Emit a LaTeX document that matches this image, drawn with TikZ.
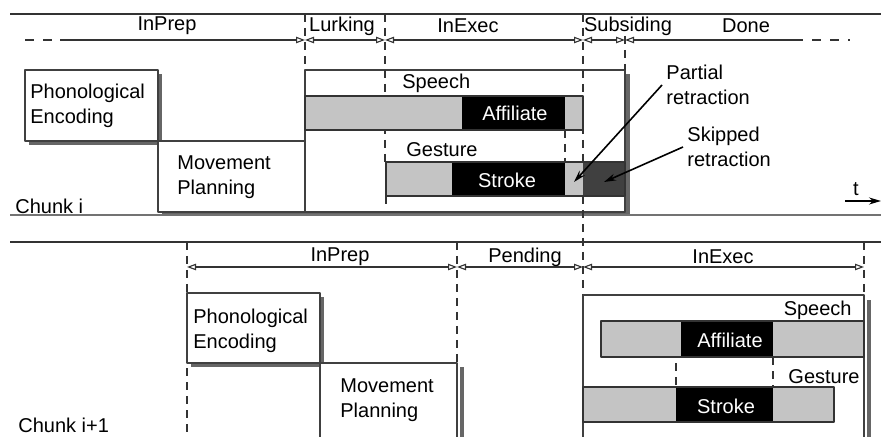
\documentclass[tikz,border=0pt]{standalone}
\usepackage{fontspec}
\setmainfont{Liberation Sans}
\usetikzlibrary{arrows.meta}
\definecolor{bargray}{gray}{0.77}
\definecolor{shadegray}{gray}{0.4}
\definecolor{retgray}{gray}{0.25}
\tikzset{
  otri/.tip={Triangle[open,length=4.5pt,width=3.2pt]},
  phase/.style={line width=0.55pt, draw=black!80},
  tick/.style={line width=0.55pt, draw=black!80, dash pattern=on 4pt off 3pt},
  stagebox/.style={line width=0.75pt, draw=black!75, fill=white},
  boxshade/.style={fill=shadegray},
  lbl/.style={inner sep=0pt, align=left, anchor=west},
  pointer/.style={line width=0.8pt, -{Stealth[length=6pt,width=3.5pt]}}
}
\begin{document}
\begin{tikzpicture}[x=0.5pt, y=-0.5pt, font=\fontsize{10}{12.5}\selectfont, line join=round]
  \useasboundingbox (0,0) rectangle (881,437);

  % Chunk i: time line
  \coordinate (tL) at (10,14); \coordinate (tR) at (881,14);
  \coordinate (tS) at (25,40); \coordinate (tA) at (60,40);
  \coordinate (t1) at (305,40); \coordinate (t2) at (385,40);
  \coordinate (t3) at (583,40); \coordinate (t4) at (625,40);
  \coordinate (tB) at (803,40); \coordinate (tE) at (850,40);

  \draw[phase] (tL) -- (tR);
  \draw[phase, dash pattern=on 4.5pt off 4.5pt] (tS) -- (tA);
  \draw[phase, -otri] (tA) -- (t1);
  \draw[phase, otri-otri] (t1) -- (t2);
  \draw[phase, otri-otri] (t2) -- (t3);
  \draw[phase, otri-otri] (t3) -- (t4);
  \draw[phase, otri-] (t4) -- (tB);
  \draw[phase, dash pattern=on 4.5pt off 4.5pt] ([xshift=4.5pt]tB) -- (tE);

  \node (prepA) at (167,26) {InPrep};
  \node (lurkA) at (342,26) {Lurking};
  \node (execA) at (468,26) {InExec};
  \node (subsA) at (628,26) {Subsiding};
  \node (doneA) at (746,26) {Done};

  % Chunk i: stages
  \fill[boxshade] (29,74) rectangle (162,145);
  \draw[stagebox] (25,70) rectangle (158,141);
  \fill[boxshade] (162,145) rectangle (309,216);
  \draw[stagebox] (158,141) rectangle (305,212);
  \fill[boxshade] (309,74) rectangle (630,216);
  \draw[stagebox] (305,70) rectangle (625,212);
  \draw[line width=1pt, black!55] (10,215) -- (881,215);

  % Chunk i: dashed borders
  \draw[tick] (305,14) -- (305,70);
  \draw[tick] (385,14) -- (385,162);
  \draw[tick] (583,14) -- (583,295);
  \draw[tick] (625,36) -- (625,70);
  \draw[tick] (565,130) -- (565,162);

  % Chunk i: speech and gesture
  \fill[bargray] (305,96) rectangle (462,130);
  \fill[black] (462,96) rectangle (565,130);
  \fill[bargray] (565,96) rectangle (583,130);
  \draw[phase] (305,96) rectangle (583,130);
  \fill[bargray] (386,162) rectangle (452,196);
  \fill[black] (452,162) rectangle (565,196);
  \fill[bargray] (565,162) rectangle (583,196);
  \fill[retgray] (583,162) rectangle (625,196);
  \draw[phase] (386,162) rectangle (625,196);
  \draw[phase] (386,196) -- (386,204);

  \node[lbl] (pencA) at (30,105.5) {Phonological\\Encoding};
  \node[lbl] (mplanA) at (177,177) {Movement\\Planning};
  \node[lbl] (speechA) at (402,83) {Speech};
  \node[lbl] (gestA) at (406,150) {Gesture};
  \node[text=white] (affA) at (515,113) {Affiliate};
  \node[text=white] (strokeA) at (507,180) {Stroke};
  \node[lbl] (chunkA) at (15,206) {Chunk i};

  % retraction labels
  \coordinate (partP) at (574,182);
  \coordinate (skipP) at (604,182);
  \node[lbl] (partial) at (666,85) {Partial\\retraction};
  \node[lbl] (skipped) at (687,147) {Skipped\\retraction};
  \draw[pointer] ([xshift=-2pt]partial.west) -- (partP);
  \draw[pointer] ([xshift=-2pt]skipped.west) -- (skipP);

  % time axis
  \coordinate (axL) at (845,201); \coordinate (axR) at (881,201);
  \draw[pointer] (axL) -- (axR);
  \node (tlab) at (856,189) {t};

  % Chunk i+1: time line
  \coordinate (uL) at (10,242); \coordinate (uR) at (881,242);
  \coordinate (b0) at (187,267); \coordinate (b1) at (457,267);
  \coordinate (b2) at (583,267); \coordinate (b3) at (864,267);

  \draw[phase] (uL) -- (uR);
  \draw[phase, otri-otri] (b0) -- (b1);
  \draw[phase, otri-otri] (b1) -- (b2);
  \draw[phase, otri-otri] (b2) -- (b3);

  \node (prepB) at (340,257) {InPrep};
  \node (pendB) at (525,257) {Pending};
  \node (execB) at (723,257) {InExec};

  % Chunk i+1: dashed borders
  \draw[tick] (187,242) -- (187,437);
  \draw[tick] (457,242) -- (457,363);
  \draw[tick] (864,242) -- (864,295);

  % Chunk i+1: stages
  \fill[boxshade] (191,297) rectangle (324,367);
  \draw[stagebox] (187,293) rectangle (320,363);
  \fill[boxshade] (460,367) rectangle (464,437);
  \filldraw[stagebox] (320,437) -- (320,363) -- (457,363) -- (457,437);
  \fill[boxshade] (867,300) rectangle (871,437);
  \filldraw[stagebox] (583,437) -- (583,295) -- (864,295) -- (864,437);

  \draw[tick] (676,363) -- (676,387);
  \draw[tick] (773,357) -- (773,387);

  % Chunk i+1: speech and gesture
  \fill[bargray] (601,321) rectangle (681,357);
  \fill[black] (681,321) rectangle (773,357);
  \fill[bargray] (773,321) rectangle (864,357);
  \draw[phase] (601,321) rectangle (864,357);
  \fill[bargray] (583,387) rectangle (676,422);
  \fill[black] (676,387) rectangle (773,422);
  \fill[bargray] (773,387) rectangle (834,422);
  \draw[phase] (583,387) rectangle (834,422);

  \node[lbl] (pencB) at (193,330.5) {Phonological\\Encoding};
  \node[lbl] (mplanB) at (340,400.5) {Movement\\Planning};
  \node[inner sep=0pt, anchor=east] (speechB) at (852,310) {Speech};
  \node[inner sep=0pt, anchor=east] (gestB) at (860,377) {Gesture};
  \node[text=white] (affB) at (730,340) {Affiliate};
  \node[text=white] (strokeB) at (726,406) {Stroke};
  \node[lbl] (chunkB) at (18,425) {Chunk i+1};
\end{tikzpicture}
\end{document}
